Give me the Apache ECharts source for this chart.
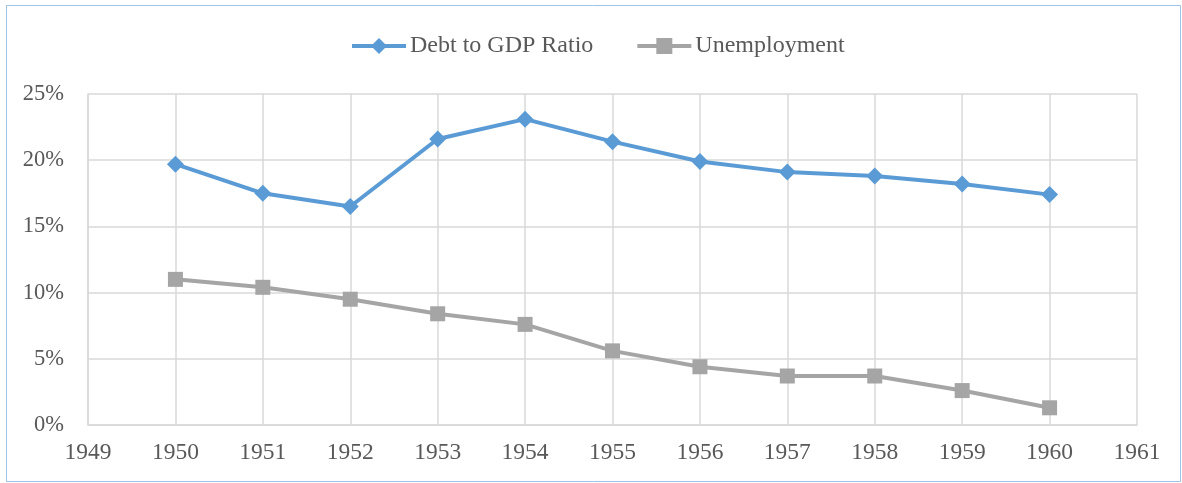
<!DOCTYPE html>
<html>
<head>
<meta charset="utf-8">
<script src="https://cdn.jsdelivr.net/npm/echarts@6/dist/echarts.min.js"></script>
<style>
  html, body { margin: 0; padding: 0; background: #fff; }
  #main { width: 1182px; height: 483px; }
</style>
</head>
<body>
<div id="main"></div>
<script>
var years = [1950, 1951, 1952, 1953, 1954, 1955, 1956, 1957, 1958, 1959, 1960];
var debtRatio = [19.7, 17.5, 16.5, 21.6, 23.1, 21.4, 19.9, 19.1, 18.8, 18.2, 17.4];
var unemployment = [11.0, 10.4, 9.5, 8.4, 7.6, 5.6, 4.4, 3.7, 3.7, 2.6, 1.3];

function pairs(vals) {
  return years.map(function (y, i) { return [y, vals[i]]; });
}

var myChart = echarts.init(document.getElementById('main'));
var textColor = '#595959';
var font = 'Liberation Serif';

myChart.setOption({
  animation: false,
  graphic: [{
    type: 'rect',
    shape: { x: 6.5, y: 5.5, width: 1174, height: 476 },
    style: { fill: 'none', stroke: '#9dc3e6', lineWidth: 1 },
    silent: true
  }],
  legend: {
    top: 29,
    left: 345,
    itemWidth: 54,
    itemHeight: 20,
    itemGap: 42,
    lineStyle: { width: 4 },
    textStyle: { fontFamily: font, fontSize: 24, color: textColor, padding: [0, 0, 0, -1] },
    data: ['Debt to GDP Ratio', 'Unemployment']
  },
  grid: { left: 88, right: 45, top: 94, bottom: 58 },
  xAxis: {
    type: 'value',
    min: 1949,
    max: 1961,
    interval: 1,
    axisLine: { show: true, lineStyle: { color: '#d9d9d9', width: 1.5 } },
    axisTick: { show: false },
    splitLine: { show: true, lineStyle: { color: '#d9d9d9', width: 1.5 } },
    axisLabel: {
      fontFamily: font, fontSize: 23.5, color: textColor, margin: 16,
      formatter: function (v) { return String(v); }
    }
  },
  yAxis: {
    type: 'value',
    min: 0,
    max: 25,
    interval: 5,
    axisLine: { show: true, lineStyle: { color: '#d9d9d9', width: 1.5 } },
    axisTick: { show: false },
    splitLine: { show: true, lineStyle: { color: '#d9d9d9', width: 1.5 } },
    axisLabel: { fontFamily: font, fontSize: 22.5, color: textColor, margin: 24, formatter: '{value}%' }
  },
  series: [
    {
      name: 'Debt to GDP Ratio',
      type: 'line',
      data: pairs(debtRatio),
      symbol: 'diamond',
      symbolSize: 17,
      lineStyle: { color: '#5b9bd5', width: 4 },
      itemStyle: { color: '#5b9bd5' }
    },
    {
      name: 'Unemployment',
      type: 'line',
      data: pairs(unemployment),
      symbol: 'rect',
      symbolSize: 15,
      lineStyle: { color: '#a5a5a5', width: 4 },
      itemStyle: { color: '#a5a5a5' }
    }
  ]
});
</script>
</body>
</html>
